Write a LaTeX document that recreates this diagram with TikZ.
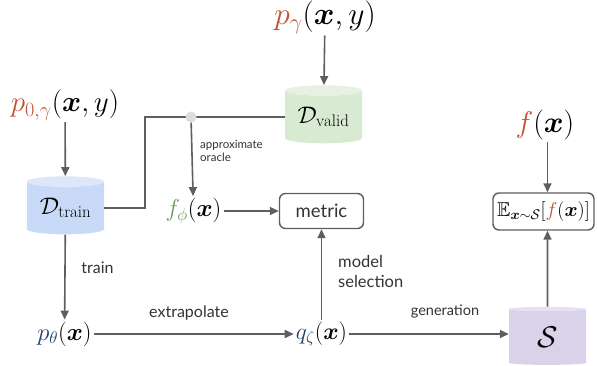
\RequirePackage{fix-cm}
\documentclass[tikz,border=0pt]{standalone}
\usepackage{amsmath,amssymb}
\usepackage{fontspec}
\newfontfamily\labfont{Lato}
\usetikzlibrary{arrows.meta,shapes.geometric}
\definecolor{orng}{HTML}{BF5230}
\definecolor{grn}{HTML}{6A9A5C}
\definecolor{blu}{HTML}{1F3E6B}
\definecolor{lin}{HTML}{5E5E5E}
\definecolor{txt}{HTML}{333333}
\definecolor{trainbody}{HTML}{C9DAF8}
\definecolor{traintop}{HTML}{DCE7FB}
\definecolor{validbody}{HTML}{D9EAD3}
\definecolor{validtop}{HTML}{E6F1E2}
\definecolor{sbody}{HTML}{D9D2E9}
\definecolor{stop}{HTML}{E6E1F2}
\definecolor{dotfill}{HTML}{DDDDDD}
\tikzset{
  conn/.style={draw=lin, line width=1.6pt},
  arr/.style={conn, -{Triangle[length=9pt,width=8pt]}},
  cyl/.style={cylinder, shape border rotate=90, aspect=0.2, draw=none,
    cylinder uses custom fill, minimum width=77pt, minimum height=58pt, inner sep=0pt},
  bigmath/.style={inner sep=2pt, font=\fontsize{30}{36}\selectfont},
  midmath/.style={inner sep=2pt, font=\fontsize{24.5}{29}\selectfont},
  box/.style={draw=lin, line width=1.4pt, rounded corners=6pt, fill=white},
  lbl/.style={inner sep=0pt, text=txt, font=\labfont\fontsize{16}{19}\selectfont},
  smalllbl/.style={inner sep=0pt, text=txt, align=left, font=\labfont\fontsize{11.5}{13.5}\selectfont},
}
\begin{document}
\begin{tikzpicture}[x=1pt,y=1pt]
\useasboundingbox (0,0) rectangle (597,-366);

% text nodes
\node[bigmath, font=\fontsize{31.5}{36}\selectfont] (pg) at (325,-17) {$\color{orng}p_{\gamma}\color{black}(\boldsymbol{x},y)$};
\node[bigmath, font=\fontsize{29}{34}\selectfont] (p0) at (65,-105) {$\color{orng}p_{0,\gamma}\color{black}(\boldsymbol{x},y)$};
\node[bigmath] (fx) at (545,-125) {$\color{orng}f\color{black}(\boldsymbol{x})$};
\node[midmath] (fphi) at (193.5,-211) {$\color{grn}f_{\phi}\color{black}(\boldsymbol{x})$};
\node[midmath] (pth) at (64.5,-334) {$\color{blu}p_{\theta}\color{black}(\boldsymbol{x})$};
\node[midmath, font=\fontsize{23.5}{28}\selectfont] (qz) at (321.5,-334) {$\color{blu}q_{\zeta}\color{black}(\boldsymbol{x})$};

% cylinders
\node[cyl, cylinder body fill=trainbody, cylinder end fill=traintop,
  font=\fontsize{24}{28}\selectfont] (Dtrain) at (65.5,-208) {$\mathcal{D}_{\mathrm{train}}$};
\node[cyl, cylinder body fill=validbody, cylinder end fill=validtop,
  font=\fontsize{24}{28}\selectfont] (Dvalid) at (323.5,-117) {$\mathcal{D}_{\mathrm{valid}}$};
\node[cyl, cylinder body fill=sbody, cylinder end fill=stop,
  font=\fontsize{30}{34}\selectfont] (S) at (547.5,-337) {$\mathcal{S}$};

% boxes
\node[box, minimum width=84pt, minimum height=35pt, font=\labfont\fontsize{18.5}{22}\selectfont, text=txt] (metric) at (321.5,-211) {metric};
\node[box, minimum width=101pt, minimum height=37pt, font=\fontsize{20}{24}\selectfont, text=black] (E) at (543.5,-211.5)
  {$\mathbb{E}_{\boldsymbol{x}\sim\mathcal{S}}[\color{orng}f\color{black}(\boldsymbol{x})]$};

% labels
\node[lbl] (ltrain) at (97.5,-268) {train};
\node[lbl] (lextra) at (189,-313) {extrapolate};
\node[lbl, align=left, anchor=west, font=\labfont\fontsize{16.5}{19.5}\selectfont] (lmodel) at (338,-271.5) {model\\selection};
\node[lbl, font=\labfont\fontsize{14.5}{17}\selectfont] (lgen) at (445,-312) {generation};
\node[smalllbl, anchor=west] (lorc) at (200,-151) {approximate\\oracle};

% connectors
\coordinate (bend) at (145,-117);
\draw[conn] (Dtrain) -| (bend) -- (Dvalid);
\node[circle, fill=dotfill, inner sep=0pt, minimum size=11pt] (dot) at (191,-117) {};
\draw[arr] (pg) -- (Dvalid);
\draw[arr] (p0) -- (Dtrain);
\draw[arr] (Dtrain) -- (pth);
\draw[arr] (dot) -- (fphi);
\draw[arr] (fphi) -- (metric);
\draw[arr] (qz) -- (metric);
\draw[arr] (pth) -- (qz);
\draw[arr] (qz) -- (S.west |- qz);
\draw[arr] (S) -- (S |- E.south);
\draw[arr] (fx.south -| S) -- (S |- E.north);
\end{tikzpicture}
\end{document}
